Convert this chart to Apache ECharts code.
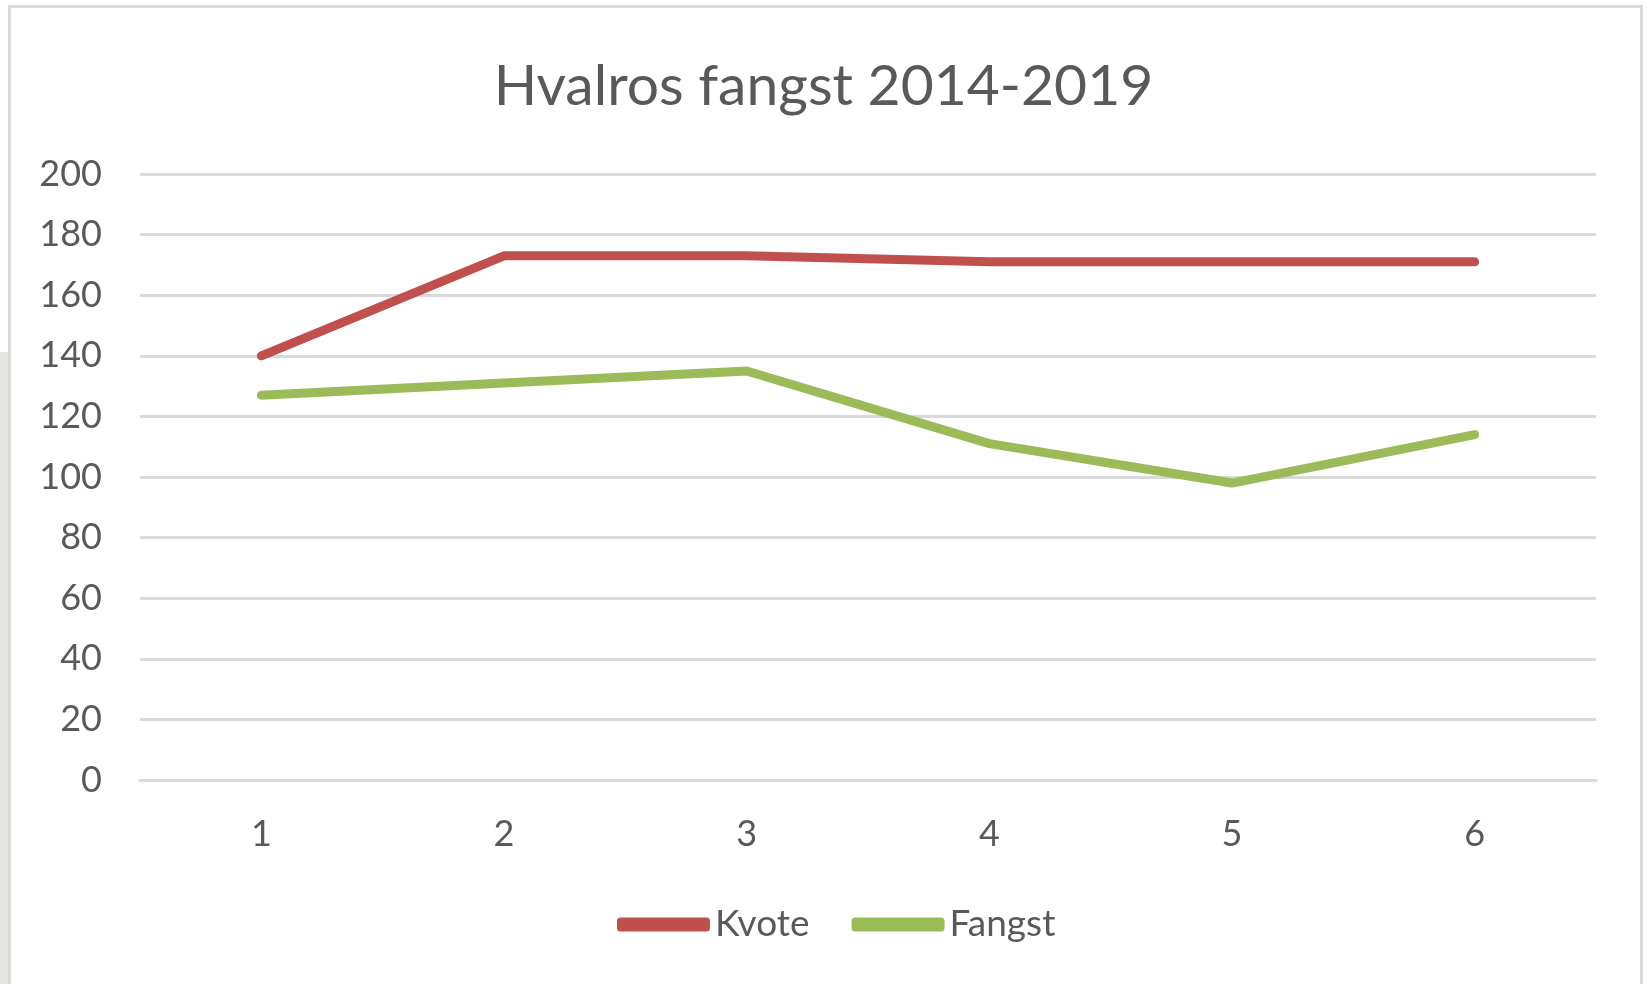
<!DOCTYPE html>
<html>
<head>
<meta charset="utf-8">
<script src="https://cdn.jsdelivr.net/npm/echarts@6/dist/echarts.min.js"></script>
<style>
  html, body { margin: 0; padding: 0; background: #ffffff; width: 1647px; height: 984px; overflow: hidden; }
  #strip { position: absolute; left: 0; top: 352px; width: 8px; height: 640px; background: #e6e6e3; }
  #frame { position: absolute; left: 8px; top: 5px; width: 1635px; height: 990px; border: 3px solid #d9d9d9; box-sizing: border-box; background: #fff; }
  #chart { position: absolute; left: 0; top: 0; width: 1647px; height: 984px; }
</style>
</head>
<body>
<div id="strip"></div>
<div id="frame"></div>
<div id="chart"></div>
<script>
const categories = ['1', '2', '3', '4', '5', '6'];
const kvote = [140, 173, 173, 171, 171, 171];
const fangst = [127, 131, 135, 111, 98, 114];
const seriesNames = ['Kvote', 'Fangst'];
const titleText = 'Hvalros fangst 2014-2019';

const chart = echarts.init(document.getElementById('chart'), null, { renderer: 'canvas' });
const font = 'Lato, "Open Sans", sans-serif';
chart.setOption({
  backgroundColor: 'transparent',
  animation: false,
  title: {
    text: titleText,
    left: 'center',
    top: 53,
    textStyle: { fontFamily: font, fontSize: 57, fontWeight: 'normal', color: '#595959' }
  },
  legend: {
    data: seriesNames,
    top: 901,
    left: 612,
    itemWidth: 93,
    itemHeight: 14,
    itemGap: 42,
    itemTextGap: 12,
    icon: 'roundRect',
    textStyle: { fontFamily: font, fontSize: 37, color: '#595959' }
  },
  grid: { left: 140, right: 51, top: 174, bottom: 204, containLabel: false },
  xAxis: {
    type: 'category',
    data: categories,
    boundaryGap: true,
    axisLine: { show: true, lineStyle: { color: '#d9d9d9', width: 3 } },
    axisTick: { show: false },
    axisLabel: { fontFamily: font, fontSize: 36, color: '#595959', margin: 36 }
  },
  yAxis: {
    type: 'value',
    min: 0,
    max: 200,
    interval: 20,
    axisLine: { show: false },
    axisTick: { show: false },
    axisLabel: { fontFamily: font, fontSize: 36, color: '#595959', margin: 38 },
    splitLine: { show: true, lineStyle: { color: '#d9d9d9', width: 3 } }
  },
  series: [
    {
      name: seriesNames[0],
      type: 'line',
      data: kvote,
      symbol: 'none',
      color: '#c0504d',
      lineStyle: { color: '#c0504d', width: 9, cap: 'round', join: 'round' }
    },
    {
      name: seriesNames[1],
      type: 'line',
      data: fangst,
      symbol: 'none',
      color: '#9bbb59',
      lineStyle: { color: '#9bbb59', width: 9, cap: 'round', join: 'round' }
    }
  ]
});
</script>
</body>
</html>
